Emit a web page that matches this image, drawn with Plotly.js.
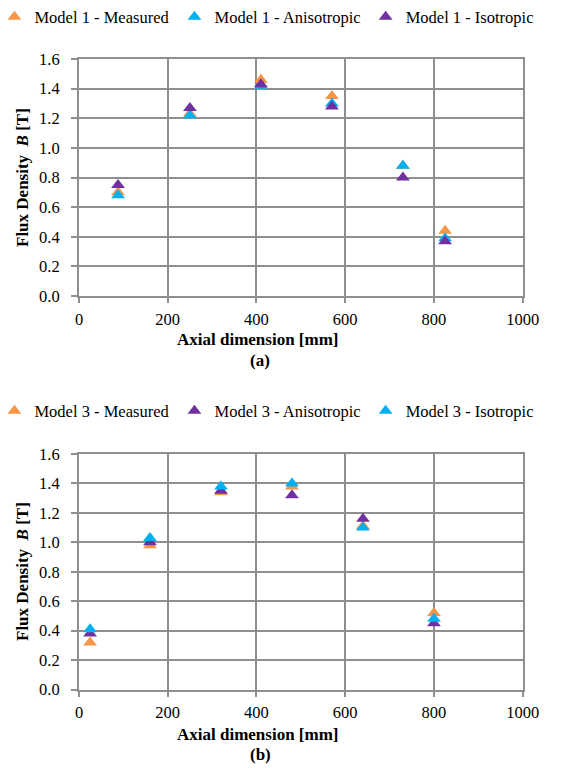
<!DOCTYPE html>
<html>
<head>
<meta charset="utf-8">
<script src="https://cdn.plot.ly/plotly-3.0.1.min.js"></script>
<style>html,body{margin:0;padding:0;background:#fff;}#chart{width:562px;height:768px;}</style>
</head>
<body>
<div id="chart"></div>
<script>
// Panel (a) - Model 1
const xA = [88, 250, 410, 570, 730, 825];
const a_measured = [0.70, 1.23, 1.46, 1.35, 0.88, 0.44];
const a_aniso = [0.68, 1.22, 1.42, 1.30, 0.88, 0.39];
const a_iso = [0.75, 1.27, 1.43, 1.28, 0.80, 0.37];
const namesA = ["Model 1 - Measured", "Model 1 - Anisotropic", "Model 1 - Isotropic"];

// Panel (b) - Model 3
const xB = [25, 160, 320, 480, 640, 800];
const b_measured = [0.32, 0.98, 1.34, 1.38, 1.11, 0.52];
const b_aniso = [0.38, 1.00, 1.35, 1.32, 1.16, 0.45];
const b_iso = [0.41, 1.03, 1.38, 1.40, 1.10, 0.48];
const namesB = ["Model 3 - Measured", "Model 3 - Anisotropic", "Model 3 - Isotropic"];

const xTicks = [0, 200, 400, 600, 800, 1000];
const yTicks = [0.0, 0.2, 0.4, 0.6, 0.8, 1.0, 1.2, 1.4, 1.6];

const ORANGE = "#F79646", CYAN = "#00B0F0", PURPLE = "#7030A0";
const FONT = "'Liberation Serif', 'Times New Roman', serif";

function tr(x, y, name, color, xa, ya, leg) {
  return {x: x, y: y, name: name, type: "scatter", mode: "markers",
    xaxis: xa, yaxis: ya, legend: leg,
    marker: {symbol: "triangle-up", size: 12, color: color}};
}

const data = [
  tr(xA, a_measured, namesA[0], ORANGE, "x", "y", "legend"),
  tr(xA, a_aniso, namesA[1], CYAN, "x", "y", "legend"),
  tr(xA, a_iso, namesA[2], PURPLE, "x", "y", "legend"),
  tr(xB, b_measured, namesB[0], ORANGE, "x2", "y2", "legend2"),
  tr(xB, b_aniso, namesB[1], PURPLE, "x2", "y2", "legend2"),
  tr(xB, b_iso, namesB[2], CYAN, "x2", "y2", "legend2")
];

const GRID = "#8f8f8f";
function xax(anchor, domain) {
  return {anchor: anchor, domain: domain, range: [0, 1000], tickvals: xTicks,
    ticktext: xTicks.map(String), showgrid: true, gridcolor: GRID, gridwidth: 2,
    showline: true, linecolor: GRID, linewidth: 2, mirror: true,
    ticks: "outside", ticklen: 5, tickwidth: 2, tickcolor: GRID, zeroline: false,
    ticklabelstandoff: 2, automargin: false,
    tickfont: {family: FONT, size: 16.5, color: "#000"}, fixedrange: true};
}
function yax(anchor, domain) {
  return {anchor: anchor, domain: domain, range: [0, 1.6], tickvals: yTicks,
    tickformat: ".1f", showgrid: true, gridcolor: GRID, gridwidth: 2,
    showline: true, linecolor: GRID, linewidth: 2, mirror: true,
    ticks: "outside", ticklen: 6, tickwidth: 2, tickcolor: GRID, zeroline: false,
    ticklabelstandoff: 8, automargin: false,
    tickfont: {family: FONT, size: 16.5, color: "#000"}, fixedrange: true};
}

const W = 562, H = 768;
const xDom = [79 / W, 522.7 / W];
const legendBase = {orientation: "h", xanchor: "center", x: 0.475, yanchor: "middle",
  font: {family: FONT, size: 16.5, color: "#000"}, bgcolor: "rgba(0,0,0,0)",
  itemwidth: 30, tracegroupgap: 0, itemsizing: "constant"};

const titleFont = {family: FONT, size: 17, color: "#000", weight: "bold"};
const layout = {
  width: W, height: H, margin: {l: 0, r: 0, t: 0, b: 0, autoexpand: false},
  font: {family: FONT},
  paper_bgcolor: "#fff", plot_bgcolor: "#fff", showlegend: true,
  xaxis: xax("y", xDom), yaxis: yax("x", [1 - 296 / H, 1 - 59 / H]),
  xaxis2: xax("y2", xDom), yaxis2: yax("x2", [1 - 689.5 / H, 1 - 454 / H]),
  legend: Object.assign({}, legendBase, {y: 1 - 17 / H}),
  legend2: Object.assign({}, legendBase, {y: 1 - 411 / H}),
  annotations: [
    {text: "Axial dimension [mm]", x: 258 / W, y: 1 - 340 / H, xref: "paper", yref: "paper", showarrow: false, font: titleFont, xanchor: "center", yanchor: "middle"},
    {text: "(a)", x: 260 / W, y: 1 - 361 / H, xref: "paper", yref: "paper", showarrow: false, font: titleFont, xanchor: "center", yanchor: "middle"},
    {text: "Flux Density  <i>B</i> [T]", x: 22 / W, y: 1 - 178 / H, xref: "paper", yref: "paper", showarrow: false, font: titleFont, textangle: -90, xanchor: "center", yanchor: "middle"},
    {text: "Axial dimension [mm]", x: 258 / W, y: 1 - 734 / H, xref: "paper", yref: "paper", showarrow: false, font: titleFont, xanchor: "center", yanchor: "middle"},
    {text: "(b)", x: 260 / W, y: 1 - 754 / H, xref: "paper", yref: "paper", showarrow: false, font: titleFont, xanchor: "center", yanchor: "middle"},
    {text: "Flux Density  <i>B</i> [T]", x: 22 / W, y: 1 - 572 / H, xref: "paper", yref: "paper", showarrow: false, font: titleFont, textangle: -90, xanchor: "center", yanchor: "middle"}
  ]
};

Plotly.newPlot("chart", data, layout, {displayModeBar: false, staticPlot: true});
</script>
</body>
</html>
